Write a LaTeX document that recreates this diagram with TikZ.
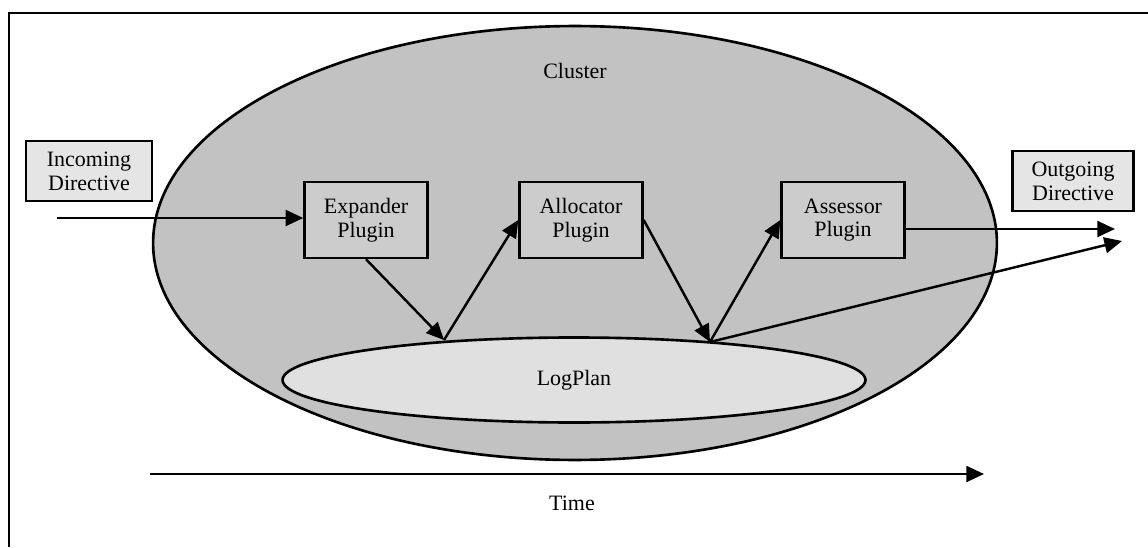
\documentclass[tikz,border=0pt]{standalone}
\usepackage{fontspec}
\setmainfont{Liberation Serif}
\usetikzlibrary{shapes.geometric,arrows.meta}

\tikzset{
  plugin/.style={draw, line width=1.4pt, fill=black!20, align=center,
    inner sep=0pt, minimum width=2.46cm, minimum height=1.52cm},
  directive/.style={draw, line width=1.4pt, fill=black!10, align=center,
    inner sep=0pt, minimum height=1.2cm},
  flow/.style={line width=1.4pt, -{Triangle[length=10pt,width=9pt]}},
}

\begin{document}
\begin{tikzpicture}[x=0.02cm, y=-0.02cm]

  \fontsize{12.5}{13.5}\selectfont

  \useasboundingbox (0,0) rectangle (1148,547);

  %% frame
  \draw[line width=1.4pt] (9,547) -- (9,13) -- (1148,13);

  \node[draw, ellipse, line width=1.5pt, fill=black!24, inner sep=0pt,
    minimum width=16.88cm, minimum height=8.68cm] (cluster) at (575,243) {};
  \node (clusterlabel) at (575,71) {Cluster};

  \node[draw, ellipse, line width=1.5pt, fill=black!12, inner sep=0pt,
    minimum width=11.66cm, minimum height=1.7cm] (logplan) at (574,380) {LogPlan};

  \node[directive, minimum width=2.52cm] (incoming) at (89,171) {Incoming\\Directive};
  \node[directive, minimum width=2.42cm] (outgoing) at (1073,181) {Outgoing\\Directive};

  \node[plugin] (expander) at (366,220) {Expander\\Plugin};
  \node[plugin] (allocator) at (581,220) {Allocator\\Plugin};
  \node[plugin] (assessor) at (843,220) {Assessor\\Plugin};

  \coordinate (instart) at (57,218);
  \coordinate (lpA) at (444,340);
  \coordinate (lpB) at (710,342);
  \coordinate (outA) at (1115,229);
  \coordinate (outB) at (1122,241);

  \draw[flow] (instart) -- (instart -| expander.west); %% in -> expander
  \draw[flow] (expander.south) -- (lpA);
  \draw[flow] (lpA) -- (allocator.west);
  \draw[flow] (allocator.east) -- (lpB);
  \draw[flow] (lpB) -- (assessor.west);
  \draw[flow] (assessor.east |- outA) -- (outA); %% assessor -> out
  \draw[flow] (lpB) -- (outB);

  %% time axis
  \coordinate (tstart) at (150,474);
  \coordinate (tend) at (984,474);
  \draw[flow] (tstart) -- (tend);
  \node (time) at (572,503) {Time};

\end{tikzpicture}
\end{document}
